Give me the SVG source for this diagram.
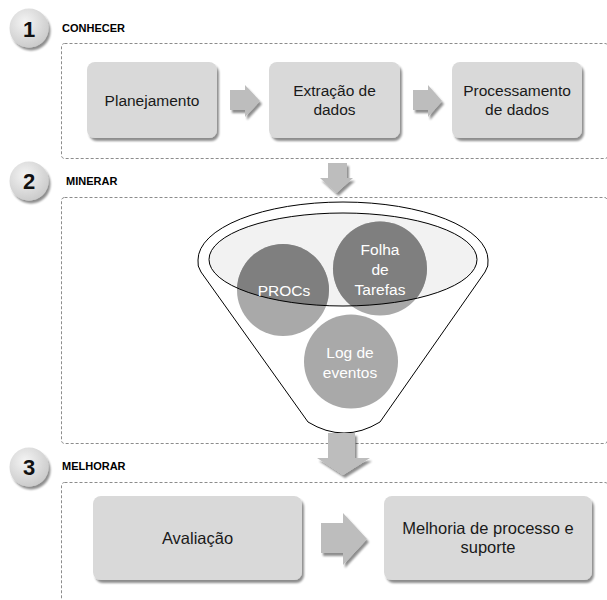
<svg xmlns="http://www.w3.org/2000/svg" width="607" height="600" viewBox="0 0 607 600">
<defs>
  <style>
    .lbl{font-family:"Liberation Sans",Arial,sans-serif;font-weight:bold;font-size:11px;fill:#000}
    .num{font-family:"Liberation Sans",Arial,sans-serif;font-weight:bold;font-size:22px;fill:#111;text-anchor:middle}
    .frame{fill:none;stroke:#8c8c8c;stroke-width:1;stroke-dasharray:3 2}
    .box{fill:#d9d9d9;filter:url(#sh)}
    .t{font-family:"Liberation Sans",Arial,sans-serif;font-size:15.5px;fill:#1a1a1a;text-anchor:middle}
    .t3{font-family:"Liberation Sans",Arial,sans-serif;font-size:16.5px;fill:#1a1a1a;text-anchor:middle}
    .arr{fill:#bdbdbd;filter:url(#sh)}
    .ct{font-family:"Liberation Sans",Arial,sans-serif;font-size:15.5px;fill:#ffffff;text-anchor:middle}
    .circL{fill:#a9a9a9}
    .circD{fill:#7f7f7f}
  </style>
  <filter id="sh" x="-20%" y="-20%" width="140%" height="140%">
    <feGaussianBlur in="SourceAlpha" stdDeviation="1.3"/>
    <feOffset dx="2" dy="3" result="b"/>
    <feComponentTransfer><feFuncA type="linear" slope="0.45"/></feComponentTransfer>
    <feMerge><feMergeNode/><feMergeNode in="SourceGraphic"/></feMerge>
  </filter>
  <radialGradient id="bg" cx="0.4" cy="0.35" r="0.7">
    <stop offset="0" stop-color="#f4f4f4"/>
    <stop offset="1" stop-color="#c9c9c9"/>
  </radialGradient>
  <clipPath id="ell"><ellipse cx="343" cy="259.5" rx="134" ry="46.5"/></clipPath>
</defs>
<rect width="607" height="600" fill="#fff"/>

<g id="frames">
  <rect class="frame" x="61.5" y="43.5" width="546.5" height="115" rx="3"/>
  <rect class="frame" x="61.5" y="197.5" width="546" height="246" rx="3"/>
  <rect class="frame" x="61.5" y="482.5" width="546.5" height="160" rx="3"/>
</g>

<g id="badge1">
  <circle cx="29" cy="28" r="19.5" fill="url(#bg)" filter="url(#sh)"/>
  <text class="num" x="29" y="36.5">1</text>
  <text class="lbl" x="62" y="32">CONHECER</text>
</g>
<g id="badge2">
  <circle cx="29" cy="181" r="19.5" fill="url(#bg)" filter="url(#sh)"/>
  <text class="num" x="29" y="189">2</text>
  <text class="lbl" x="66" y="185">MINERAR</text>
</g>
<g id="badge3">
  <circle cx="29" cy="467" r="19.5" fill="url(#bg)" filter="url(#sh)"/>
  <text class="num" x="29" y="475">3</text>
  <text class="lbl" x="62" y="470">MELHORAR</text>
</g>

<g id="planejamento">
  <rect class="box" x="87" y="62" width="130" height="76" rx="8"/>
  <text class="t" x="152" y="105.5">Planejamento</text>
</g>
<g id="extracao">
  <rect class="box" x="269" y="62" width="131" height="76" rx="8"/>
  <text class="t" x="334.5" y="96">Extração de</text>
  <text class="t" x="334.5" y="115">dados</text>
</g>
<g id="processamento">
  <rect class="box" x="452" y="62" width="130" height="76" rx="8"/>
  <text class="t" x="517" y="96">Processamento</text>
  <text class="t" x="517" y="115">de dados</text>
</g>

<g id="funil">
  <path d="M198 260 A145 58 0 0 1 488 260 Q489 266 485 272 L380 422 Q344 444 308 422 L201 272 Q197 266 198 260 Z" fill="#fff" stroke="#000" stroke-width="1"/>
  <ellipse cx="343" cy="259.5" rx="134" ry="46.5" fill="#f2f2f2"/>
  <circle class="circL" cx="283" cy="290" r="46"/>
  <circle class="circL" cx="380" cy="268.5" r="47"/>
  <circle class="circL" cx="351" cy="361.5" r="47"/>
  <g clip-path="url(#ell)">
    <circle class="circD" cx="283" cy="290" r="46"/>
    <circle class="circD" cx="380" cy="268.5" r="47"/>
  </g>
  <ellipse cx="343" cy="259.5" rx="134" ry="46.5" fill="none" stroke="#000" stroke-width="1"/>
</g>
<g id="procs">
  <text class="ct" x="284" y="296">PROCs</text>
</g>
<g id="folha">
  <text class="ct" x="380" y="255">Folha</text>
  <text class="ct" x="380" y="275">de</text>
  <text class="ct" x="380" y="295">Tarefas</text>
</g>
<g id="log">
  <text class="ct" x="350" y="358" fill="#f2f2f2">Log de</text>
  <text class="ct" x="350" y="378" fill="#f2f2f2">eventos</text>
</g>

<g id="avaliacao">
  <rect class="box" x="93" y="496" width="209" height="84" rx="8"/>
  <text class="t3" x="197.5" y="544">Avaliação</text>
</g>
<g id="melhoria">
  <rect class="box" x="384" y="496" width="208" height="84" rx="8"/>
  <text class="t3" x="488" y="534">Melhoria de processo e</text>
  <text class="t3" x="488" y="553">suporte</text>
</g>

<g id="connectors">
  <path class="arr" d="M230 90 H245 V85 L260 101 L245 117 V110 H230 Z"/>
  <path class="arr" d="M413 90 H428 V85 L442 101 L428 117 V110 H413 Z"/>
  <path class="arr" d="M328 163 H347 V178 H353 L336.5 193 L320 178 H328 Z"/>
  <path class="arr" d="M328 433 H355 V458 H370 L343 475 L317 458 H328 Z"/>
  <path class="arr" d="M321 523 H343 V513 L367 539 L343 565 V553 H321 Z"/>
</g>
</svg>
